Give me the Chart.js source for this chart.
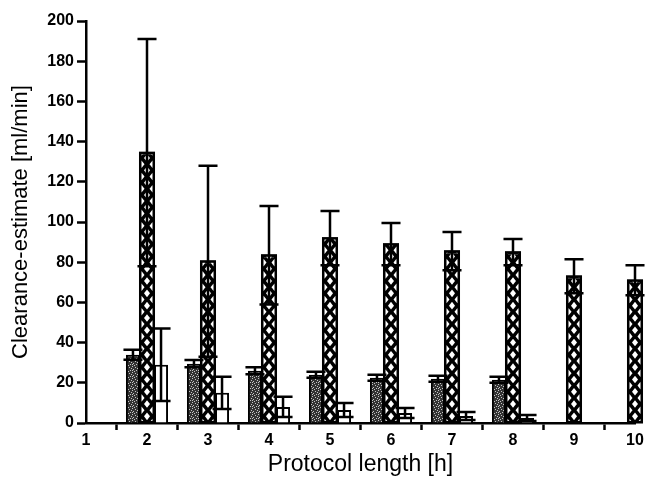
<!DOCTYPE html>
<html>
<head>
<meta charset="utf-8">
<script src="https://cdn.jsdelivr.net/npm/chart.js@4.4.1/dist/chart.umd.min.js"></script>
<style>
    html, body { margin: 0; padding: 0; background: #fff; }
    #wrap { width: 647px; height: 480px; }
</style>
</head>
<body>
<div id="wrap"><canvas id="chartClearance"></canvas></div>
<script>
'use strict';

/* ── Données ── */
var HOURS        = ['1', '2', '3', '4', '5', '6', '7', '8', '9', '10'];
var STIPPLE_MEAN = [null, 34, 29.5, 26, 24, 22.5, 22, 21.5, null, null];
var STIPPLE_SD   = [null, 2.5, 1.8, 1.7, 1.5, 1.5, 1.5, 1.5, null, null];
var CROSS_MEAN   = [null, 134.5, 80.5, 83.5, 92, 89, 85.5, 85, 73, 71];
var CROSS_SD     = [null, 56.5, 47.5, 24.5, 13.5, 10.5, 9.5, 6.5, 8.5, 7.5];
var OPEN_MEAN    = [null, 29, 15, 8, 6.5, 5, 3.5, 2.5, null, null];
var OPEN_SD      = [null, 18, 8, 5, 3.5, 2.5, 2, 1.5, null, null];

var FONT = "'Liberation Sans', Arial, sans-serif";
var SD_BY_DATASET = [STIPPLE_SD, CROSS_SD, OPEN_SD];

/* ── Motif pointillé (fixe) ── */
function makeStipple() {
    var c = document.createElement('canvas');
    c.width = 6; c.height = 6;
    var g = c.getContext('2d');
    g.fillStyle = '#333';
    g.fillRect(0, 0, 6, 6);
    g.fillStyle = '#c4c4c4';
    [[0, 0], [3, 1], [1, 3], [4, 4], [5, 2], [2, 5], [0, 4]].forEach(function (p) {
        g.fillRect(p[0], p[1], 1, 1);
    });
    return g.createPattern(c, 'repeat');
}

/* Losanges blancs du hachurage croisé, alignés sur chaque barre */
function drawCrossHatch(ctx, el) {
    var p = el.getProps(['x', 'y', 'base', 'width'], true);
    var left = p.x - p.width / 2, right = p.x + p.width / 2;
    var top = Math.min(p.y, p.base), bot = Math.max(p.y, p.base);
    var P = 12.3, hw = 3, hh = 3.8;
    ctx.save();
    ctx.beginPath();
    ctx.rect(left + 1.5, top + 1.5, p.width - 3, bot - top - 3);
    ctx.clip();
    ctx.fillStyle = '#fff';
    function diamond(cx, cy) {
        ctx.beginPath();
        ctx.moveTo(cx, cy - hh);
        ctx.lineTo(cx + hw, cy);
        ctx.lineTo(cx, cy + hh);
        ctx.lineTo(cx - hw, cy);
        ctx.closePath();
        ctx.fill();
    }
    for (var k = 0; bot - k * P > top - P; k++) {
        diamond(p.x, bot - P / 2 - k * P);
        diamond(left + 1.5, bot - k * P);
        diamond(right - 1.5, bot - k * P);
    }
    ctx.restore();
}

var hatchPlugin = {
    id: 'hatch',
    afterDatasetDraw: function (chart, args) {
        if (args.index !== 1) { return; }
        var ctx = chart.ctx;
        args.meta.data.forEach(function (el, i) {
            if (CROSS_MEAN[i] === null) { return; }
            drawCrossHatch(ctx, el);
            var p = el.getProps(['x', 'y', 'base', 'width'], true);
            ctx.save();
            ctx.strokeStyle = '#000';
            ctx.lineWidth = 2;
            ctx.strokeRect(p.x - p.width / 2, p.y, p.width, p.base - p.y);
            ctx.restore();
        });
    }
};

/* ── Barres d'erreur ± SD ── */
var errorBarPlugin = {
    id: 'errorBars',
    afterDatasetsDraw: function (chart) {
        var ctx = chart.ctx, yScale = chart.scales.y;
        chart.data.datasets.forEach(function (ds, di) {
            var meta = chart.getDatasetMeta(di);
            var sd = SD_BY_DATASET[di];
            meta.data.forEach(function (el, i) {
                var v = ds.data[i];
                if (v === null || sd[i] === null) { return; }
                var p = el.getProps(['x', 'width'], true);
                var yHi = yScale.getPixelForValue(v + sd[i]);
                var yLo = yScale.getPixelForValue(Math.max(0, v - sd[i]));
                var half = p.width / 2 + 2.5;
                ctx.save();
                ctx.strokeStyle = '#000';
                ctx.lineWidth = 2.5;
                ctx.beginPath();
                ctx.moveTo(p.x, yHi); ctx.lineTo(p.x, yLo);
                ctx.moveTo(p.x - half, yHi); ctx.lineTo(p.x + half, yHi);
                ctx.moveTo(p.x - half, yLo); ctx.lineTo(p.x + half, yLo);
                ctx.stroke();
                ctx.restore();
            });
        });
    }
};

var ctx = document.getElementById('chartClearance');

new Chart(ctx, {
    type: 'bar',
    data: {
        labels: HOURS,
        datasets: [
            { data: STIPPLE_MEAN, backgroundColor: makeStipple(), borderColor: '#000', borderWidth: 2, clip: false },
            { data: CROSS_MEAN,   backgroundColor: '#000',        borderColor: '#000', borderWidth: 2, clip: false },
            { data: OPEN_MEAN,    backgroundColor: '#fff',        borderColor: '#000', borderWidth: 2, clip: false }
        ]
    },
    options: {
        responsive: true,
        maintainAspectRatio: false,
        animation: false,
        categoryPercentage: 0.69,
        barPercentage: 1,
        layout: { padding: { left: 6, right: 12, top: 21, bottom: 2 } },
        plugins: { legend: { display: false }, tooltip: { enabled: false } },
        scales: {
            x: {
                type: 'category',
                offset: false,
                grid: { drawOnChartArea: false, tickLength: 7, tickWidth: 2.5, tickColor: '#000' },
                border: { color: '#000', width: 2.5 },
                ticks: { color: '#000', padding: 1, maxRotation: 0, autoSkip: false,
                         font: { family: FONT, size: 16, weight: 'bold' } },
                title: { display: true, text: 'Protocol length [h]', color: '#000', padding: 0,
                         font: { family: FONT, size: 23 } },
                afterFit: function (s) { s.height = 55; }
            },
            y: {
                min: 0,
                max: 200,
                grid: { drawOnChartArea: false, tickLength: 9, tickColor: '#000',
                        tickWidth: function (c) { return c.tick && c.tick.value % 20 === 0 ? 2.5 : 2; } },
                border: { color: '#000', width: 2.5 },
                ticks: {
                    stepSize: 10,
                    color: '#000',
                    padding: 3,
                    font: { family: FONT, size: 16, weight: 'bold' },
                    callback: function (v) { return v % 20 === 0 ? v : ''; }
                },
                title: { display: true, text: 'Clearance-estimate [ml/min]', color: '#000', padding: 2,
                         font: { family: FONT, size: 22 } },
                afterFit: function (s) { s.width = 80; }
            }
        }
    },
    plugins: [hatchPlugin, errorBarPlugin]
});
</script>
</body>
</html>
